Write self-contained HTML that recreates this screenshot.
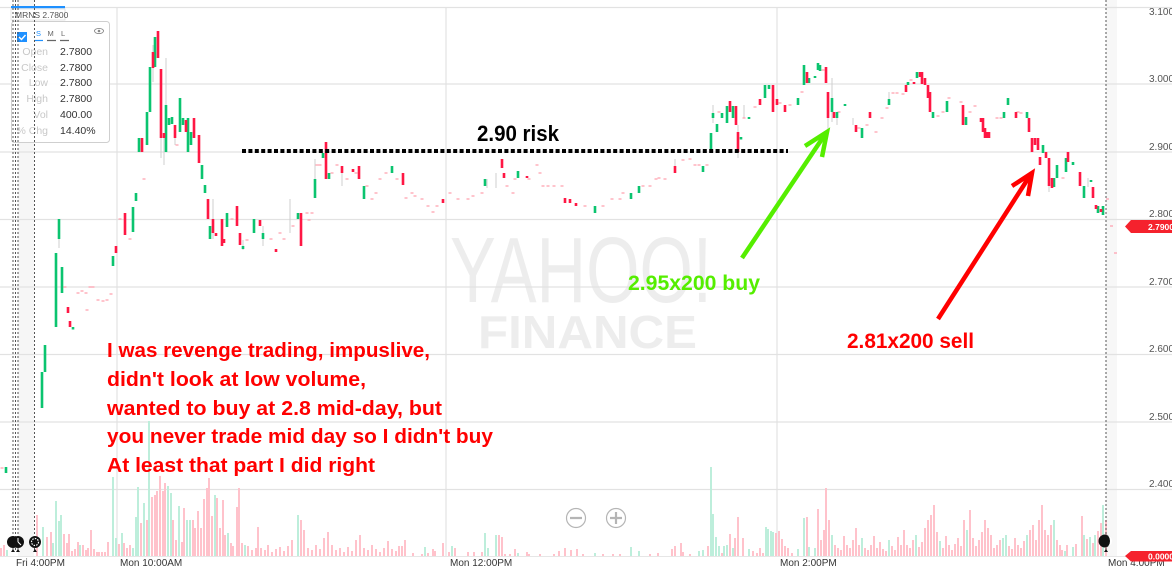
<!DOCTYPE html>
<html><head><meta charset="utf-8"><style>
html,body{margin:0;padding:0;background:#fff;}
svg{display:block;}
text{font-family:"Liberation Sans",Arial,sans-serif;}
</style></head><body>
<svg width="1172" height="569" viewBox="0 0 1172 569" xmlns="http://www.w3.org/2000/svg">
<rect width="1172" height="569" fill="#fff"/>
<!-- shaded bands -->
<rect x="18" y="0" width="16" height="556" fill="#f6f6f6"/>
<rect x="1106" y="0" width="11" height="556" fill="#f7f7f7"/>
<!-- watermark -->
<text x="450" y="302" font-size="93" fill="#ededed" textLength="262" lengthAdjust="spacingAndGlyphs">YAHOO!</text>
<text x="478" y="348" font-size="46" font-weight="bold" fill="#ededed" textLength="219" lengthAdjust="spacingAndGlyphs">FINANCE</text>
<!-- grid -->
<g stroke="#e2e2e2" stroke-width="1.2">
<path d="M0 7.5H1172 M0 84H1172 M0 152H1172 M0 219.5H1172 M0 287H1172 M0 354.5H1172 M0 422H1172 M0 489.5H1172"/>
<path d="M117 8V556 M446 8V556 M777 8V556"/>
</g>
<!-- volume -->
<g stroke="#bdeedb" stroke-width="2">
<path d="M7 556V550M43 556V527M53 556V543M56 556V501M59 556V521M61 556V515M80 556V545M113 556V477M116 556V538M122 556V533M133 556V548M136 556V517M138 556V487M144 556V503M149 556V421M168 556V486M171 556V493M179 556V506M187 556V520M190 556V520M215 556V495M228 556V533M245 556V545M298 556V515M425 556V547M452 556V546M485 556V533M488 556V548M496 556V535M518 556V553M595 556V553M631 556V547M639 556V551M699 556V551M703 556V550M711 556V467M713 556V514M716 556V537M719 556V546M724 556V546M727 556V545M733 556V548M749 556V549M766 556V527M768 556V529M771 556V531M773 556V532M798 556V549M804 556V518M809 556V547M815 556V548M832 556V535M862 556V538M889 556V540M916 556V535M940 556V541M967 556V530M1003 556V538M1006 556V535M1027 556V535M1054 556V520M1065 556V551M1073 556V547M1084 556V535M1090 556V537M1095 556V535M1103 556V505"/>
</g>
<g stroke="#ffc2cb" stroke-width="2">
<path d="M1 556V548M4 556V545M37 556V515M47 556V537M51 556V532M64 556V534M67 556V543M69 556V534M72 556V551M75 556V549M78 556V542M83 556V545M86 556V550M88 556V548M91 556V530M94 556V549M97 556V552M99 556V552M102 556V552M105 556V552M108 556V542M119 556V544M124 556V543M127 556V548M130 556V545M141 556V523M147 556V520M152 556V497M155 556V495M157 556V491M160 556V476M163 556V491M165 556V483M173 556V520M176 556V540M182 556V542M184 556V508M193 556V520M195 556V528M198 556V511M201 556V528M204 556V499M207 556V488M209 556V478M212 556V516M217 556V498M220 556V528M223 556V500M225 556V535M231 556V543M233 556V546M237 556V507M239 556V488M242 556V543M248 556V546M252 556V550M256 556V548M258 556V527M261 556V548M265 556V550M268 556V545M272 556V552M276 556V549M280 556V547M284 556V551M288 556V546M292 556V540M301 556V520M304 556V530M308 556V548M312 556V550M316 556V545M320 556V549M324 556V538M328 556V532M332 556V545M336 556V550M340 556V548M344 556V552M348 556V547M352 556V551M356 556V540M360 556V535M364 556V548M368 556V550M372 556V545M376 556V549M380 556V552M384 556V548M388 556V541M392 556V549M396 556V551M399 556V546M402 556V546M405 556V540M413 556V553M422 556V554M428 556V553M433 556V549M435 556V551M443 556V543M449 556V552M455 556V548M468 556V552M474 556V552M482 556V552M499 556V535M502 556V537M505 556V554M510 556V554M515 556V549M527 556V552M529 556V554M540 556V554M554 556V554M559 556V551M565 556V548M571 556V550M577 556V549M583 556V554M603 556V554M613 556V554M620 556V554M650 556V554M658 556V553M672 556V549M675 556V546M681 556V543M683 556V552M690 556V554M708 556V546M722 556V553M730 556V534M735 556V538M738 556V517M743 556V538M753 556V551M757 556V553M760 556V548M763 556V553M776 556V533M779 556V531M782 556V539M785 556V546M788 556V548M792 556V553M807 556V517M818 556V509M821 556V540M824 556V530M826 556V488M829 556V520M835 556V545M838 556V548M841 556V550M844 556V536M847 556V545M850 556V548M853 556V540M856 556V528M859 556V545M865 556V548M868 556V550M871 556V545M874 556V536M877 556V548M880 556V542M883 556V549M886 556V551M892 556V546M895 556V550M898 556V537M901 556V545M904 556V530M907 556V545M910 556V548M913 556V540M919 556V547M922 556V542M925 556V528M928 556V520M931 556V515M934 556V505M937 556V532M943 556V548M946 556V536M949 556V545M952 556V550M955 556V544M958 556V538M961 556V546M964 556V520M970 556V510M973 556V538M976 556V546M979 556V540M982 556V532M985 556V520M988 556V528M991 556V535M994 556V548M997 556V545M1000 556V540M1009 556V546M1012 556V549M1015 556V538M1018 556V545M1021 556V548M1024 556V541M1030 556V530M1033 556V525M1036 556V540M1039 556V520M1042 556V505M1045 556V530M1048 556V535M1051 556V525M1057 556V540M1060 556V545M1062 556V550M1067 556V545M1076 556V544M1082 556V516M1087 556V539M1093 556V543M1098 556V531M1101 556V523M1106 556V520"/>
</g>
<!-- wicks -->
<g stroke="#cfcfcf" stroke-width="1">
<path d="M59 239V248M153 45V82M161 138V158M164 138V165M166 58V105M175 138V145M213 199V239M243 240V250M263 226V246M290 199V233M315 159V179M342 166V186M487 179V188M496 173V188M675 159V173M713 105V123M738 125V158M744 105V118M828 118V132M832 78V122M837 118V125M853 118V125M889 92V99M1049 186V192M1088 178V187"/>
</g>
<!-- pink dashes -->
<g stroke="#ffa0ae" stroke-width="1.3">
<path d="M0.5 468h3M63.5 287h3M76.5 293h3M80.5 291h3M84.5 293h3M85.5 310h3M88.5 287h3M91.5 287h3M96.5 300h3M101.5 301h3M105.5 300h3M109.5 294h3M118.5 219h3M128.5 239h3M142.5 179h3M175.5 145h3M230.5 219h3M245.5 240h3M269.5 239h3M278.5 233h3M282.5 239h3M291.5 226h3M305.5 213h3M307.5 220h3M310.5 213h3M315.5 165h3M318.5 165h3M330.5 173h3M335.5 165h3M345.5 179h3M354.5 173h3M365.5 186h3M370.5 199h3M374.5 193h3M378.5 179h3M384.5 173h3M395.5 179h3M404.5 198h3M410.5 193h3M413.5 196h3M420.5 199h3M426.5 206h3M431.5 212h3M435.5 206h3M448.5 193h3M456.5 199h3M466.5 199h3M471.5 196h3M480.5 193h3M505.5 186h3M511.5 193h3M513.5 179h3M527.5 179h3M535.5 165h3M538.5 173h3M541.5 186h3M546.5 186h3M552.5 186h3M560.5 186h3M583.5 206h3M601.5 206h3M610.5 199h3M618.5 199h3M621.5 193h3M641.5 186h3M648.5 186h3M654.5 179h3M657.5 178h3M663.5 179h3M681.5 160h3M688.5 159h3M693.5 165h3M697.5 165h3M705.5 165h3M717.5 112h3M742.5 118h3M753.5 107h3M778.5 103h3M788.5 105h3M800.5 92h3M821.5 70h3M837.5 112h3M857.5 128h3M865.5 125h3M874.5 132h3M880.5 118h3M885.5 108h3M891.5 93h3M895.5 93h3M901.5 94h3M909.5 80h3M936.5 116h3M941.5 112h3M947.5 98h3M959.5 102h3M968.5 112h3M973.5 106h3M995.5 118h3M999.5 118h3M1016.5 112h3M1019.5 113h3M1061.5 178h3M1106 199h3M1110 226h3M1114 253h3"/>
</g>
<!-- green candles -->
<g stroke="#0bc46f" stroke-width="2.6">
<path d="M6 467V473M42 372V408M45 345V372M56 253V327M59 219V239M62 267V293M73 327V329.5M113 256V266M133 207V232M136 193V201M139 138V152M147 112V145M150 67V112M155 37V67M166 105V152M169 118V125M172 117V124M180 98V132M183 118V125M188 118V152M191 132V145M202 165V179M205 185V193M210 226V239M227 213V227M243 246V249M254 219V233M263 233V239M298 213V219M315 179V198M323 153V158M329 173V179M364 186V199M392 166V173M485 179V186M518 171V178M595 206V213M631 193V199M639 186V193M703 166V172M711 133V152M713 113V118M717 124V132M722 113V118M727 106V123M733 106V118M741 137V139.5M749 117V119M765 85V98M769 85V89M798 98V105M804 65V85M809 78V83M815 76V78M818 63V70M820 65V71M832 98V112M837 112V118M845 104V106M862 128V138M889 99V105M908 82V85M917 72V78M933 112V118M947 101V112M966 117V125M1004 112V118M1008 98V105M1027 112V118M1043 145V153M1054 178V187M1057 165V178M1066 158V172M1073 162V165M1084 186V198M1091 180V182M1098 206V213M1103 206V215"/>
</g>
<!-- red candles -->
<g stroke="#ff1744" stroke-width="2.6">
<path d="M68 307V313M70 321V327M116 246V253M125 213V235M142 138V152M153 52V68M158 31V58M161 69V138M164 133V138M175 125V138M186 120V132M194 118V138M199 135V163M208 199V219M213 219V233M216 233V236M222 219V246M224 239V243M237 206V226M240 233V245M260 220V226M276 249V252M301 213V246M326 142V179M342 166V173M353 169V172M359 166V179M403 173V185M443 199V203M502 159V168M504 173V178M527 176V178M565 198V203M570 199V203M576 203V206M675 166V173M730 101V112M736 106V125M738 132V152M760 99V105M773 85V112M777 99V105M785 105V112M807 72V83M826 67V83M828 92V118M834 112V118M856 125V132M870 112V118M906 85V92M914 82V84M920 72V77M922 72V84M925 78V85M928 85V98M930 92V112M963 105V125M981 118V122M983 118V132M985 128V138M987 132V138M989 132V138M1016 112V118M1029 118V132M1032 138V152M1035 138V145M1038 138V150M1040 157V165M1046 152V158M1049 158V186M1052 178V188M1068 152V162M1080 172V186M1093 187V198M1096 205V209M1101 209V212"/>
</g>
<!-- legend box -->
<rect x="11.5" y="21.5" width="98" height="121" rx="3" fill="rgba(255,255,255,0.88)" stroke="#cfcfcf"/>
<rect x="11" y="9" width="54" height="11" fill="#fff" stroke="#e0e0e0" stroke-width="0.8"/>
<rect x="11" y="6" width="54" height="2.2" fill="#1e90ff"/>
<text x="15" y="18" font-size="8.5" fill="#555">MRNS 2.7800</text>
<rect x="17" y="32" width="10" height="10" fill="#1e90ff"/>
<path d="M19 37l2.5 2.5 4-4.5" stroke="#fff" stroke-width="1.4" fill="none"/>
<text x="36" y="36" font-size="7.5" fill="#1e90ff">S</text>
<text x="47.5" y="36" font-size="7.5" fill="#666">M</text>
<text x="61" y="36" font-size="7.5" fill="#666">L</text>
<path d="M34 40.5h9" stroke="#1e90ff" stroke-width="1.2"/>
<path d="M47 40.5h9M60 40.5h9" stroke="#666" stroke-width="1.2"/>
<ellipse cx="99" cy="31" rx="4.5" ry="2.6" fill="none" stroke="#888" stroke-width="0.9"/>
<circle cx="99" cy="31" r="1.3" fill="#888"/>
<g font-size="10.5" fill="#c8c8c8" text-anchor="end">
<text x="48" y="55">Open</text><text x="48" y="71">Close</text><text x="48" y="86">Low</text><text x="48" y="102">High</text><text x="48" y="118">Vol</text><text x="48" y="134">% Chg</text>
</g>
<g font-size="10.5" fill="#333">
<text x="60" y="55">2.7800</text><text x="60" y="71">2.7800</text><text x="60" y="86">2.7800</text><text x="60" y="102">2.7800</text><text x="60" y="118">400.00</text><text x="60" y="134">14.40%</text>
</g>
<!-- dotted vertical markers -->
<g stroke="#555" stroke-width="1" stroke-dasharray="2 2">
<path d="M13 0V550M15.5 0V550M18 0V550M34.5 0V550M1106 0V550"/>
</g>
<!-- 2.90 risk line -->
<path d="M242 151H788" stroke="#000" stroke-width="4" stroke-dasharray="4 2.4"/>
<text x="477" y="141" font-size="22" font-weight="bold" fill="#000" textLength="82" lengthAdjust="spacingAndGlyphs">2.90 risk</text>
<!-- arrows -->
<g fill="none" stroke="#55ee00" stroke-width="4.5" stroke-linecap="butt">
<path d="M742 258L826 133"/>
<path d="M805 146L827 132L822 157"/>
</g>
<g fill="none" stroke="#ff0000" stroke-width="4.5">
<path d="M938 319L1031 174"/>
<path d="M1012 186L1032 173L1028 196"/>
</g>
<text x="628" y="290" font-size="21" font-weight="bold" fill="#55ee00" textLength="132" lengthAdjust="spacingAndGlyphs">2.95x200 buy</text>
<text x="847" y="348" font-size="21" font-weight="bold" fill="#ff0000" textLength="127" lengthAdjust="spacingAndGlyphs">2.81x200 sell</text>
<g font-size="20" font-weight="bold" fill="#ff0000">
<text x="107" y="357" textLength="323" lengthAdjust="spacingAndGlyphs">I was revenge trading, impuslive,</text>
<text x="107" y="386" textLength="259" lengthAdjust="spacingAndGlyphs">didn't look at low volume,</text>
<text x="107" y="415" textLength="335" lengthAdjust="spacingAndGlyphs">wanted to buy at 2.8 mid-day, but</text>
<text x="107" y="443" textLength="386" lengthAdjust="spacingAndGlyphs">you never trade mid day so I didn't buy</text>
<text x="107" y="472" textLength="268" lengthAdjust="spacingAndGlyphs">At least that part I did right</text>
</g>
<!-- zoom controls -->
<g fill="none" stroke="#b5b5b5" stroke-width="1.2">
<circle cx="576" cy="518" r="9.5"/><circle cx="616" cy="518" r="9.5"/>
</g>
<path d="M570 518h12M610 518h12M616 512v12" stroke="#b5b5b5" stroke-width="2.2"/>
<!-- right axis labels -->
<g font-size="10" fill="#555">
<text x="1149" y="15">3.1000</text>
<text x="1149" y="82">3.0000</text>
<text x="1149" y="150">2.9000</text>
<text x="1149" y="217">2.8000</text>
<text x="1149" y="285">2.7000</text>
<text x="1149" y="352">2.6000</text>
<text x="1149" y="420">2.5000</text>
<text x="1149" y="487">2.4000</text>
</g>
<!-- bottom axis -->
<path d="M0 556.5H1172" stroke="#e6e6e6"/>
<g font-size="10" fill="#333">
<text x="16" y="566">Fri 4:00PM</text>
<text x="120" y="566">Mon 10:00AM</text>
<text x="450" y="566">Mon 12:00PM</text>
<text x="780" y="566">Mon 2:00PM</text>
<text x="1108" y="566">Mon 4:00PM</text>
</g>
<!-- price labels -->
<path d="M1125 226.5L1131 220H1172V233H1131Z" fill="#f5222d"/>
<text x="1148" y="230" font-size="8.5" font-weight="bold" fill="#fff">2.7900</text>
<path d="M1125 556L1131 551H1172V561.5H1131Z" fill="#f5222d"/>
<text x="1148" y="559.5" font-size="8.5" font-weight="bold" fill="#fff">0.0000</text>
<!-- bottom marker icons -->
<g fill="#111">
<circle cx="13" cy="542" r="6"/><circle cx="18" cy="542" r="6"/><circle cx="35" cy="542" r="6"/>
<circle cx="1105" cy="541" r="6.5"/>
<path d="M11 552l2-3 2 3zM16 552l2-3 2 3zM33 552l2-3 2 3zM1104 552l2-3 2 3z"/>
</g>
<path d="M18 542v-4M18 542l3 3" stroke="#fff" stroke-width="1"/>
<circle cx="35" cy="542" r="3.5" fill="none" stroke="#fff" stroke-width="1.2" stroke-dasharray="1.5 1.2"/>
<path d="M1106 535a6 6 0 0 1 0 12a4 6 0 0 0 0-12z" fill="#fff"/>
</svg>
</body></html>
